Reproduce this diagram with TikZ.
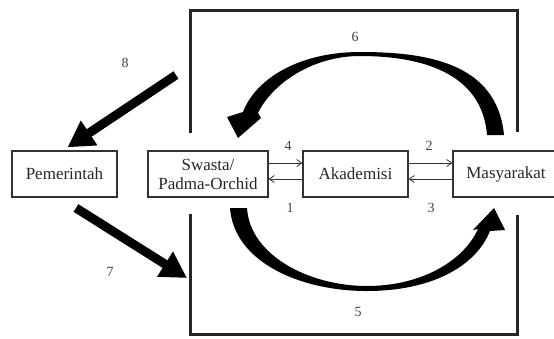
\documentclass[tikz,border=0pt]{standalone}
\usepackage{fontspec}
\setmainfont{Liberation Serif}
\usetikzlibrary{arrows.meta}
\begin{document}
\begin{tikzpicture}[x=1pt,y=-1pt,
  box/.style={draw=black!80,line width=1.3pt,minimum height=46pt,inner sep=0pt,font=\fontsize{17}{19}\selectfont,text=black!85,align=center},
  small/.style={draw=black!80,line width=0.8pt,-{Straight Barb[length=5pt,width=7pt]}},
  num/.style={font=\fontsize{14}{16}\selectfont,text=black!75},
  frame/.style={draw=black!85,line width=3pt},
  bigarrow/.style={draw=black,line width=9pt,-{Triangle[length=26pt,width=28pt]}},
  blob/.style={fill=black}]
\useasboundingbox (0,0) rectangle (554,338);
% frame
\coordinate (f1) at (190,133);
\coordinate (f2) at (190,10);
\coordinate (f3) at (517,10);
\coordinate (f4) at (517,132);
\coordinate (g1) at (190,214);
\coordinate (g2) at (190,334);
\coordinate (g3) at (517,334);
\coordinate (g4) at (517,215);
\draw[frame] (f1) -- (f2) -- (f3) -- (f4);
\draw[frame] (g1) -- (g2) -- (g3) -- (g4);
% boxes
\node[box,minimum width=105pt] (pem) at (64.5,174) {Pemerintah};
\node[box,minimum width=120pt] (swa) at (208,174) {Swasta/\\Padma-Orchid};
\node[box,minimum width=105pt] (aka) at (355.5,174) {Akademisi};
\node[box,minimum width=106pt] (mas) at (506,174) {Masyarakat};
% small arrows
\draw[small] ([yshift=11pt]swa.east) -- ([yshift=11pt]aka.west);
\draw[small] ([yshift=-5pt]aka.west) -- ([yshift=-5pt]swa.east);
\draw[small] ([yshift=11pt]aka.east) -- ([yshift=11pt]mas.west);
\draw[small] ([yshift=-5pt]mas.west) -- ([yshift=-5pt]aka.east);
\node[num] (n4) at (288,146) {4};
\node[num] (n1) at (290,208) {1};
\node[num] (n2) at (429,146) {2};
\node[num] (n3) at (431,208) {3};
% arrow 6 (curved, top)
\fill[blob] (504,135) .. controls (497,62) and (425,52) .. (360,52)
  .. controls (300,52) and (256,78) .. (243,112)
  -- (227,117) -- (238,138) -- (261,118) -- (258,113)
  .. controls (272,84) and (312,56) .. (360,56)
  .. controls (420,56) and (482,72) .. (487,135) -- cycle;
\node[num] (n6) at (355,37) {6};
% arrow 5 (curved, bottom)
\fill[blob] (230,208) .. controls (234,262) and (300,291) .. (367,291)
  .. controls (432,291) and (476,266) .. (490,231)
  -- (505,230) -- (494,208) -- (473,230) -- (478,229)
  .. controls (463,262) and (420,286) .. (367,286)
  .. controls (310,286) and (250,256) .. (247,208) -- cycle;
\node[num] (n5) at (358,312) {5};
% arrows 8 and 7
\coordinate (t8) at (176,75);
\coordinate (t7) at (76,208);
\coordinate (h7) at (187,278);
\draw[bigarrow] (t8) -- ([shift={(3,-3)}]pem.north);
\draw[bigarrow] (t7) -- (h7);
\node[num] (n8) at (125,63) {8};
\node[num] (n7) at (110,272) {7};
\end{tikzpicture}
\end{document}
